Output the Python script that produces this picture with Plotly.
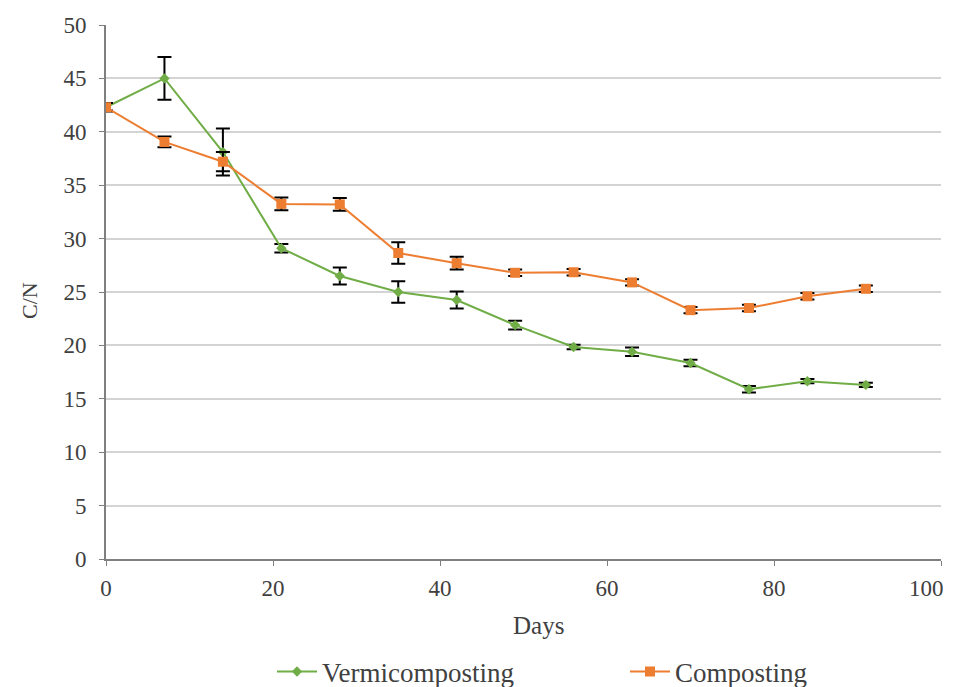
import plotly.graph_objects as go

days = [0, 7, 14, 21, 28, 35, 42, 49, 56, 63, 70, 77, 84, 91]
vermi = [42.3, 45.0, 38.1, 29.1, 26.5, 25.0, 24.25, 21.9, 19.85, 19.4, 18.35, 15.9, 16.65, 16.3]
vermi_err = [0.3, 2.0, 2.2, 0.4, 0.8, 1.0, 0.8, 0.4, 0.2, 0.4, 0.3, 0.3, 0.2, 0.2]
compost = [42.3, 39.05, 37.2, 33.25, 33.2, 28.65, 27.7, 26.8, 26.85, 25.9, 23.3, 23.5, 24.6, 25.3]
compost_err = [0.4, 0.5, 0.9, 0.6, 0.6, 1.0, 0.6, 0.3, 0.3, 0.3, 0.3, 0.3, 0.3, 0.3]
x_ticks = [0, 20, 40, 60, 80, 100]
y_ticks = list(range(0, 51, 5))

FONT = "Liberation Serif"
TXT = "#404040"
GREEN = "#70AD47"
ORANGE = "#ED7D31"

fig = go.Figure()
fig.add_trace(go.Scatter(
    x=days, y=vermi, name="Vermicomposting", mode="lines+markers",
    line=dict(color=GREEN, width=2),
    marker=dict(symbol="diamond", size=8, color=GREEN),
    error_y=dict(type="data", array=vermi_err, color="black", thickness=2, width=7),
    legend="legend",
))
fig.add_trace(go.Scatter(
    x=days, y=compost, name="Composting", mode="lines+markers",
    line=dict(color=ORANGE, width=2),
    marker=dict(symbol="square", size=10, color=ORANGE),
    error_y=dict(type="data", array=compost_err, color="black", thickness=2, width=7),
    legend="legend2",
))

# page body has an 8px margin, so the figure is drawn at (8, 8)
OFF = 8
PL, PR, PT, PB = 106, 941, 25, 559  # plot area in page pixels
W, H = 955 - OFF, 687 - OFF
pw, ph = PR - PL, PB - PT


def px(x):
    return (x - PL) / pw


def py(y):
    return (PB - y) / ph


# last x tick label is shifted left (as in the reference) so it stays in view
x_ticktext = [str(v) for v in x_ticks[:-1]] + [""]

fig.update_layout(
    width=W, height=H,
    paper_bgcolor="white", plot_bgcolor="white",
    margin=dict(l=PL - OFF, r=955 - PR, t=PT - OFF, b=687 - PB, autoexpand=False),
    font=dict(family=FONT, size=23, color=TXT),
    showlegend=True,
    legend=dict(orientation="h", x=px(272), xanchor="left", y=py(672), yanchor="middle",
                font=dict(family=FONT, size=27, color=TXT), itemwidth=40,
                bgcolor="rgba(0,0,0,0)"),
    legend2=dict(orientation="h", x=px(625), xanchor="left", y=py(672), yanchor="middle",
                 font=dict(family=FONT, size=27, color=TXT), itemwidth=40,
                 bgcolor="rgba(0,0,0,0)"),
    annotations=[
        dict(text=str(x_ticks[-1]), xref="x", yref="y", x=x_ticks[-1], y=0,
             xanchor="center", yanchor="middle", xshift=-15, yshift=-29, showarrow=False,
             font=dict(family=FONT, size=23, color=TXT)),
        dict(text="Days", xref="paper", yref="paper", x=px(538), y=py(625),
             xanchor="center", yanchor="middle", showarrow=False,
             font=dict(family=FONT, size=25, color=TXT)),
        dict(text="C/N", xref="paper", yref="paper", x=px(30), y=py(301),
             xanchor="center", yanchor="middle", showarrow=False, textangle=-90,
             font=dict(family=FONT, size=22, color=TXT)),
    ],
)
fig.update_xaxes(
    range=[0, 100], tickvals=x_ticks, ticktext=x_ticktext,
    showgrid=False, zeroline=False, automargin=False,
    showline=True, linecolor="#7f7f7f", linewidth=2,
    ticks="outside", ticklen=5, tickcolor="#7f7f7f", tickwidth=1, ticklabelstandoff=2,
)
fig.update_yaxes(
    range=[0, 50], tickvals=y_ticks,
    showgrid=True, gridcolor="#d4d4d4", gridwidth=2, zeroline=False, automargin=False,
    showline=True, linecolor="#7f7f7f", linewidth=2,
    ticks="outside", ticklen=5, tickcolor="#7f7f7f", tickwidth=1, ticklabelstandoff=8,
)

fig.write_html("out.html")
